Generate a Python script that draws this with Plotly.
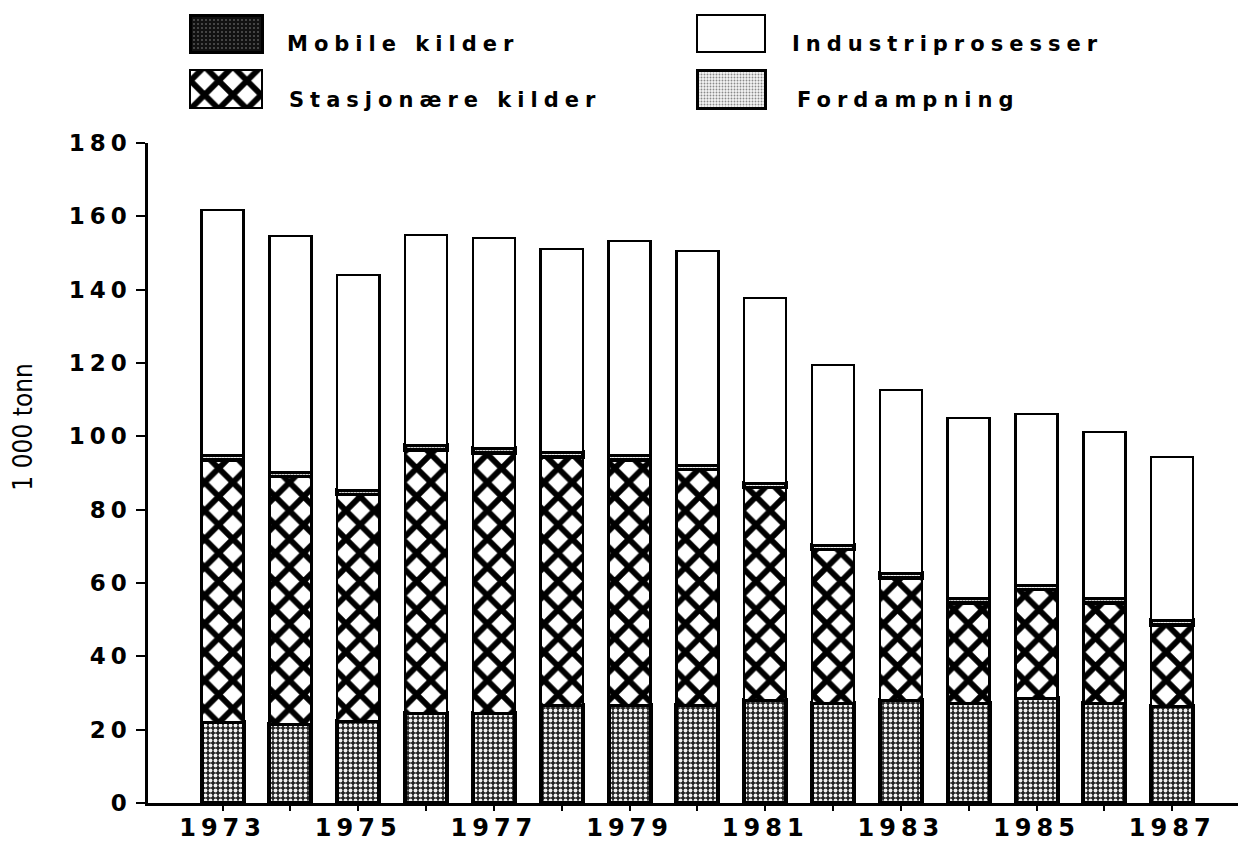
import plotly.graph_objects as go

years = list(range(1973, 1988))
mobile = [22.1, 21.5, 22.4, 24.5, 24.5, 26.7, 26.7, 26.7, 28.1, 27.3, 28.1, 27.3, 28.6, 27.3, 26.5]
fordampning = [1.3] * 15
cross_top = [94.9, 90.3, 85.4, 97.6, 96.8, 95.7, 94.9, 92.2, 87.3, 70.4, 62.7, 55.9, 59.5, 55.9, 49.9]
totals = [161.7, 154.6, 144.0, 154.9, 154.1, 151.1, 153.3, 150.5, 137.7, 119.5, 112.6, 105.0, 106.1, 101.2, 94.4]
stasjonaere = [round(c - m - f, 1) for c, m, f in zip(cross_top, mobile, fordampning)]
industri = [round(t - c, 1) for t, c in zip(totals, cross_top)]

series_names = ["Mobile kilder", "Industriprosesser", "Stasjonære kilder", "Fordampning"]
tick_text = [str(y) if y % 2 == 1 else "" for y in years]
y_ticks = list(range(0, 181, 20))

FONT = "DejaVu Sans"
W = 0.62

mobile_marker = dict(color="#1a1a1a", line=dict(color="black", width=4),
                     pattern=dict(shape=".", fgcolor="#f0f0f0", bgcolor="#222222",
                                  fgopacity=1, size=5, solidity=0.45))
stas_marker = dict(color="white", line=dict(color="black", width=2.5),
                   pattern=dict(shape="x", fgcolor="black", bgcolor="white",
                                fgopacity=1, size=20, solidity=0.5))
ford_marker = dict(color="#e6e6e6", line=dict(color="black", width=3.5),
                   pattern=dict(shape=".", fgcolor="#8a8a8a", bgcolor="#f4f4f4",
                                fgopacity=1, size=3, solidity=0.3))
ind_marker = dict(color="white", line=dict(color="black", width=2.5))
markers = {"Mobile kilder": mobile_marker, "Industriprosesser": ind_marker,
           "Stasjonære kilder": stas_marker, "Fordampning": ford_marker}
legend_swatch_markers = dict(markers)
legend_swatch_markers["Mobile kilder"] = dict(
    color="#111111", line=dict(color="black", width=3),
    pattern=dict(shape=".", fgcolor="#555555", bgcolor="#111111", fgopacity=1,
                 size=4, solidity=0.2))
legend_swatch_markers["Fordampning"] = dict(
    color="#e6e6e6", line=dict(color="black", width=3),
    pattern=dict(shape=".", fgcolor="#8a8a8a", bgcolor="#f4f4f4", fgopacity=1,
                 size=3, solidity=0.3))

fig = go.Figure()
fig.add_bar(x=years, y=mobile, name="Mobile kilder", width=W, marker=mobile_marker,
            showlegend=False)
fig.add_bar(x=years, y=stasjonaere, name="Stasjonære kilder", width=W, marker=stas_marker,
            showlegend=False)
fig.add_bar(x=years, y=fordampning, name="Fordampning", width=W, marker=ford_marker,
            showlegend=False)
fig.add_bar(x=years, y=industri, name="Industriprosesser", width=W, marker=ind_marker,
            showlegend=False)

# legend drawn as large swatches on a helper axis in the top band (pixel-like units)
leg_x = [226, 731, 226, 731]
leg_w = [72, 68, 72, 68]
leg_base = [91, 91, 35, 35]
leg_h = [37, 37, 38, 38]
leg_text_x = [285, 790, 287, 795]
leg_text_y = [99, 99, 43, 43]
for i, nm in enumerate(series_names):
    fig.add_bar(x=[leg_x[i]], y=[leg_h[i]], base=[leg_base[i]], width=leg_w[i],
                marker=legend_swatch_markers[nm], xaxis="x2", yaxis="y2",
                showlegend=False, hoverinfo="skip")
    fig.add_annotation(text=nm, xref="x2", yref="y2", x=leg_text_x[i], y=leg_text_y[i],
                       xanchor="left", yanchor="middle", align="left", showarrow=False,
                       font=dict(size=21, family=FONT, color="black", weight="bold"))

fig.add_annotation(text="1 000 tonn", xref="paper", yref="paper", x=-0.114, y=0.474,
                   xanchor="center", yanchor="middle", textangle=-90, showarrow=False,
                   font=dict(size=26, family="DejaVu Sans Condensed", color="black"))

fig.update_layout(
    barmode="stack",
    width=1238, height=833,
    paper_bgcolor="white", plot_bgcolor="white",
    margin=dict(l=140, r=6, t=2, b=38, autoexpand=False),
    font=dict(family=FONT, color="black", size=20),
    showlegend=False,
    xaxis=dict(range=[1971.9, 1988.0], tickmode="array", tickvals=years,
               ticktext=tick_text, ticks="outside", ticklen=5, tickwidth=1.5,
               tickcolor="black", showline=True, linecolor="black", linewidth=2.5,
               showgrid=False, zeroline=False, ticklabelstandoff=-4,
               tickfont=dict(size=24, family=FONT, weight="bold")),
    yaxis=dict(domain=[0, 0.83228], range=[0, 180], tickmode="array", tickvals=y_ticks,
               ticks="outside", ticklen=9, tickwidth=2, tickcolor="black",
               showline=True, linecolor="black", linewidth=2.5, showgrid=False,
               zeroline=False, tickfont=dict(size=23, family=FONT, weight="bold")),
    xaxis2=dict(domain=[0, 1], range=[148, 1240], anchor="y2", visible=False,
                fixedrange=True),
    yaxis2=dict(domain=[0.83228, 1], range=[0, 133], anchor="x2", visible=False,
                fixedrange=True),
)

post = """
var s = document.createElement('style');
s.innerHTML = '.xtick text {letter-spacing: 5px;} .ytick text {letter-spacing: 5px;} .annotation-text {letter-spacing: 6px;}';
document.head.appendChild(s);
document.querySelectorAll('.annotation-text').forEach(function(t){
  if (t.textContent.indexOf('tonn') >= 0) { t.style.letterSpacing = '0px'; }
});
"""

fig.write_html("out.html", post_script=post)
